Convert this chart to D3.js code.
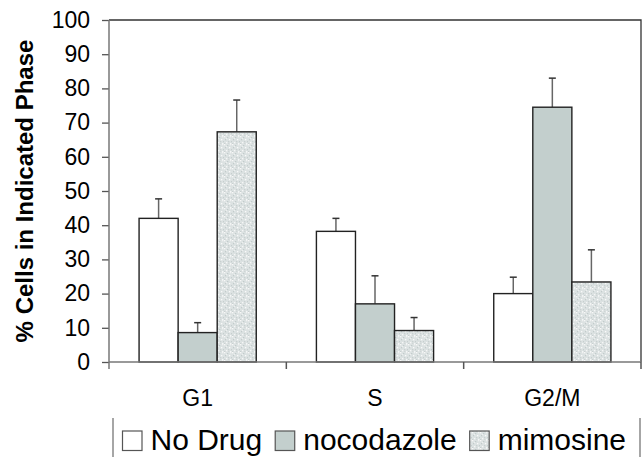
<!DOCTYPE html>
<html>
<head>
<meta charset="utf-8">
<script src="https://cdn.jsdelivr.net/npm/d3@7"></script>
<style>
  body { margin: 0; background: #fff; }
  text { font-family: "Liberation Sans", Arial, sans-serif; fill: #000; }
</style>
</head>
<body>
<script>
'use strict';

// data
const phases = ["G1", "S", "G2/M"];
const treatments = ["No Drug", "nocodazole", "mimosine"];
const noDrug = [42.0, 38.2, 20.0];
const nocodazole = [8.6, 17.0, 74.5];
const mimosine = [67.3, 9.2, 23.4];
const noDrugErr = [5.7, 3.8, 4.8];
const nocodazoleErr = [2.9, 8.2, 8.5];
const mimosineErr = [9.3, 3.8, 9.4];
const yTicks = [0, 10, 20, 30, 40, 50, 60, 70, 80, 90, 100];

const seriesValues = [noDrug, nocodazole, mimosine];
const seriesErrors = [noDrugErr, nocodazoleErr, mimosineErr];

let width = 642;
let height = 457;
let margin = {top: 20, right: 1, bottom: 95, left: 109};

let svg = d3.select("body")
  .append("svg")
  .attr("width", width)
  .attr("height", height);

// speckled fill for mimosine
let defs = svg.append("defs");
let pat = defs.append("pattern")
  .attr("id", "speckle")
  .attr("patternUnits", "userSpaceOnUse")
  .attr("width", 8)
  .attr("height", 8);
pat.append("rect").attr("width", 8).attr("height", 8).attr("fill", "#dce2e2");
[[0, 0, "#f8f8f8"], [3, 1, "#c2cbcb"], [6, 0, "#f0f2f2"], [1, 3, "#c2cbcb"],
 [5, 3, "#fafafa"], [7, 5, "#c6cece"], [2, 6, "#f6f6f6"], [4, 5, "#c8d0d0"],
 [0, 7, "#c8d0d0"], [6, 7, "#f4f6f6"], [2, 2, "#eef0f0"], [4, 7, "#d0d6d6"]]
  .forEach(p => {
    pat.append("rect")
      .attr("x", p[0]).attr("y", p[1])
      .attr("width", 1.3).attr("height", 1.3)
      .attr("fill", p[2]);
  });

const fills = ["#ffffff", "#c3cfcd", "url(#speckle)"];

let x0 = d3.scaleBand()
  .domain(phases)
  .range([margin.left, width - margin.right])
  .paddingInner(0)
  .paddingOuter(0);

let x1 = d3.scaleBand()
  .domain(treatments)
  .range([0, x0.bandwidth()])
  .paddingInner(0)
  .paddingOuter(0.77);

let y = d3.scaleLinear()
  .domain([0, 100])
  .range([height - margin.bottom, margin.top]);

let rows = [];
phases.forEach((ph, i) => {
  treatments.forEach((tr, j) => {
    rows.push({phase: ph, treatment: tr, idx: j,
               value: seriesValues[j][i], err: seriesErrors[j][i]});
  });
});

// frame: top and right
svg.append("path")
  .attr("d", "M" + margin.left + "," + y(100) + "H" + (width - margin.right) + "V" + y(0))
  .attr("fill", "none")
  .attr("stroke", "#333")
  .attr("stroke-width", 1.3);

// error bars (behind bars)
let eb = svg.append("g");
eb.selectAll("line.stem")
  .data(rows)
  .enter()
  .append("line")
  .attr("class", "stem")
  .attr("x1", d => x0(d.phase) + x1(d.treatment) + x1.bandwidth() / 2)
  .attr("x2", d => x0(d.phase) + x1(d.treatment) + x1.bandwidth() / 2)
  .attr("y1", d => y(d.value))
  .attr("y2", d => y(d.value + d.err))
  .attr("stroke", "#666")
  .attr("stroke-width", 1.5);
eb.selectAll("line.cap")
  .data(rows)
  .enter()
  .append("line")
  .attr("class", "cap")
  .attr("x1", d => x0(d.phase) + x1(d.treatment) + x1.bandwidth() / 2 - 3.5)
  .attr("x2", d => x0(d.phase) + x1(d.treatment) + x1.bandwidth() / 2 + 3.5)
  .attr("y1", d => y(d.value + d.err))
  .attr("y2", d => y(d.value + d.err))
  .attr("stroke", "#333")
  .attr("stroke-width", 1.5);

// bars
svg.append("g")
  .selectAll("rect")
  .data(rows)
  .enter()
  .append("rect")
  .attr("x", d => x0(d.phase) + x1(d.treatment))
  .attr("y", d => y(d.value))
  .attr("width", x1.bandwidth())
  .attr("height", d => y(0) - y(d.value))
  .attr("fill", d => fills[d.idx])
  .attr("stroke", "#222")
  .attr("stroke-width", 1.4);

// y axis
let yAxis = svg.append("g")
  .attr("transform", "translate(" + margin.left + ",0)")
  .call(d3.axisLeft(y).tickValues(yTicks).tickSize(7).tickPadding(12).tickSizeOuter(0));
yAxis.select(".domain").remove();
yAxis.append("line")
  .attr("y1", y(100)).attr("y2", y(0) + 7)
  .attr("stroke", "#777").attr("stroke-width", 1.5);
yAxis.selectAll(".tick line").attr("stroke", "#555").attr("stroke-width", 1.3);
yAxis.selectAll(".tick text")
  .attr("font-size", 23)
  .attr("font-family", "Liberation Sans, Arial, sans-serif")
  .attr("fill", "#000");

// x axis
let xAxis = svg.append("g")
  .attr("transform", "translate(0," + y(0) + ")");
xAxis.append("line")
  .attr("x1", margin.left).attr("x2", width - margin.right)
  .attr("stroke", "#777").attr("stroke-width", 1.5);
xAxis.selectAll("line.tk")
  .data(phases)
  .enter()
  .append("line")
  .attr("class", "tk")
  .attr("x1", d => x0(d) + x0.bandwidth())
  .attr("x2", d => x0(d) + x0.bandwidth())
  .attr("y1", 0).attr("y2", 7)
  .attr("stroke", "#555").attr("stroke-width", 1.5);
xAxis.selectAll("text")
  .data(phases)
  .enter()
  .append("text")
  .attr("x", d => x0(d) + x0.bandwidth() / 2)
  .attr("y", 44)
  .attr("text-anchor", "middle")
  .attr("font-size", 23)
  .text(d => d);

// y title
svg.append("text")
  .attr("transform", "translate(33," + (y(0) + y(100)) / 2 + ") rotate(-90)")
  .attr("text-anchor", "middle")
  .attr("font-size", 24)
  .attr("font-weight", "bold")
  .text("% Cells in Indicated Phase");

// legend
let legend = svg.append("g");
legend.append("line")
  .attr("x1", 113).attr("x2", 113).attr("y1", 418).attr("y2", 457)
  .attr("stroke", "#888").attr("stroke-width", 1.5);
let lx = 122.5;
treatments.forEach((t, i) => {
  legend.append("rect")
    .attr("x", lx).attr("y", 431)
    .attr("width", 19.5).attr("height", 19.5)
    .attr("fill", fills[i])
    .attr("stroke", "#555")
    .attr("stroke-width", 1.2);
  let txt = legend.append("text")
    .attr("x", lx + 28)
    .attr("y", 450)
    .attr("font-size", 30)
    .text(t);
  lx += 28 + txt.node().getComputedTextLength() + 13;
});
legend.append("line")
  .attr("x1", 640).attr("x2", 640).attr("y1", 418).attr("y2", 457)
  .attr("stroke", "#888").attr("stroke-width", 1.5);
</script>
</body>
</html>
